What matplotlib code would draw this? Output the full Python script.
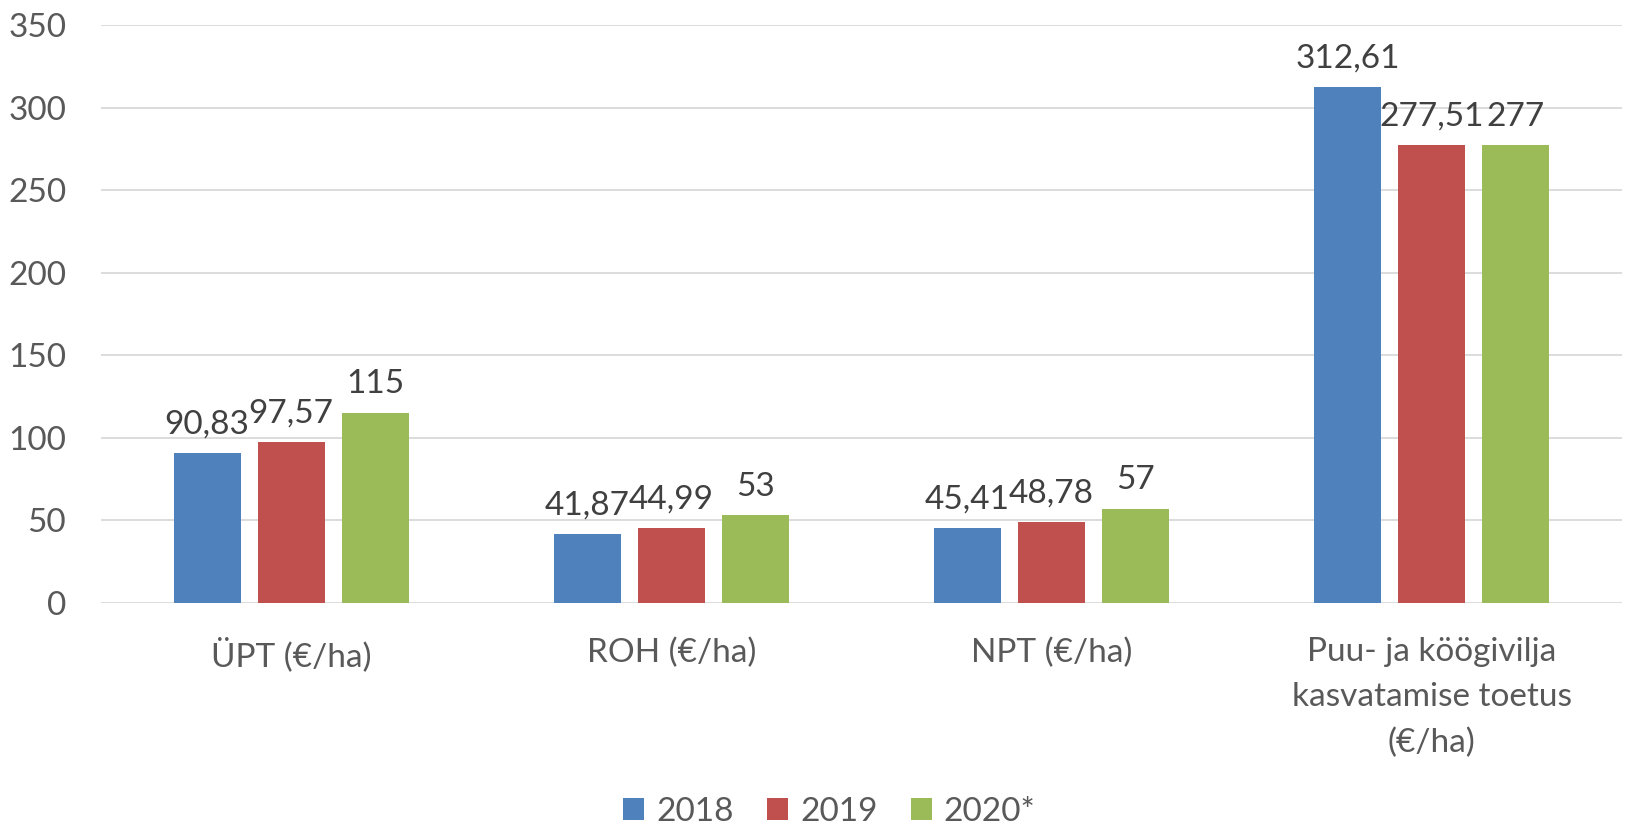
import matplotlib.pyplot as plt
import numpy as np

categories = ['ÜPT (€/ha)', 'ROH (€/ha)', 'NPT (€/ha)',
              'Puu- ja köögivilja\nkasvatamise toetus\n(€/ha)']
years = ['2018', '2019', '2020*']
v2018 = [90.83, 41.87, 45.41, 312.61]
v2019 = [97.57, 44.99, 48.78, 277.51]
v2020 = [115, 53, 57, 277]
colors = ['#4f81bd', '#c0504d', '#9bbb59']

plt.rcParams['font.family'] = ['Lato', 'DejaVu Sans']

fig = plt.figure(figsize=(16.26, 8.27), dpi=100)
ax = fig.add_axes([0.0621, 0.2712, 0.9354, 0.6986])

x = np.arange(len(categories))
width = 0.176
step = 0.221

def fmt(v):
    if v == int(v):
        return str(int(v))
    return f'{v:.2f}'.replace('.', ',')

for i, (vals, yr) in enumerate(zip([v2018, v2019, v2020], years)):
    pos = x + (i - 1) * step
    ax.bar(pos, vals, width, color=colors[i], label=yr, zorder=2)
    for p, v in zip(pos, vals):
        ax.annotate(fmt(v), (p, v), xytext=(0, 14), textcoords='offset points',
                    ha='center', va='baseline', fontsize=24, color='#404040')

ax.set_xlim(-0.5, 3.5)
ax.set_ylim(0, 350)
ax.set_yticks(range(0, 351, 50))
ax.yaxis.grid(True, color='#d9d9d9', linewidth=1.3, zorder=0)
ax.set_axisbelow(True)
for s in ax.spines.values():
    s.set_visible(False)
ax.tick_params(axis='both', length=0, labelsize=24, labelcolor='#595959')
ax.tick_params(axis='y', pad=25)
ax.tick_params(axis='x', pad=25)
ax.set_xticks(x)
ax.set_xticklabels(categories, linespacing=1.62)

fig.legend(loc='center', bbox_to_anchor=(0.51, 0.018), ncol=3, frameon=False,
           fontsize=24, labelcolor='#595959', handlelength=0.64, handleheight=0.64,
           handletextpad=0.35, columnspacing=1.0, borderpad=0, borderaxespad=0)

fig.savefig('out.png', dpi=100)
